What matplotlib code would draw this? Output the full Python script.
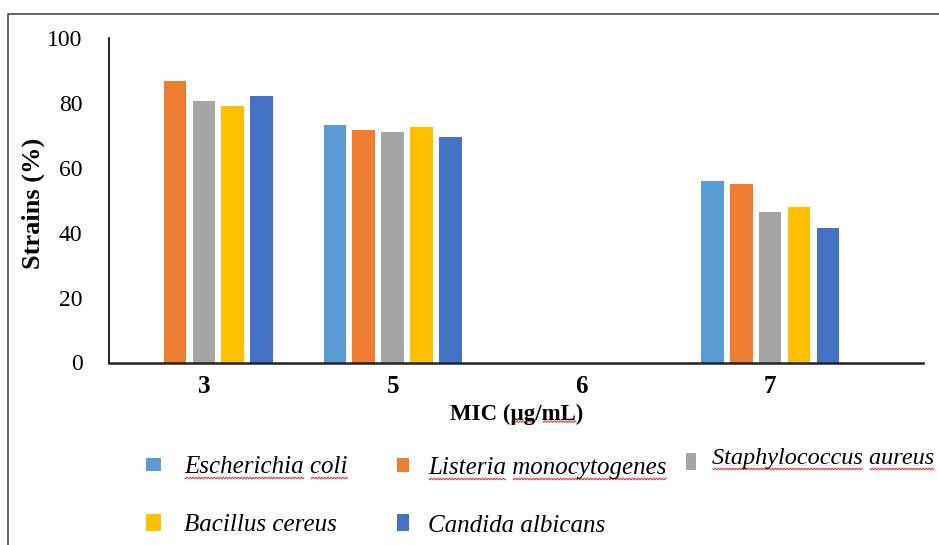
import matplotlib
matplotlib.use("Agg")
import matplotlib.pyplot as plt
from matplotlib.patches import Rectangle
from matplotlib.lines import Line2D
import numpy as np

# ---- data ----
categories = ["3", "5", "6", "7"]
series_names = ["Escherichia coli", "Listeria monocytogenes", "Staphylococcus aureus",
                "Bacillus cereus", "Candida albicans"]
ecoli = [0, 73.3, 0, 55.9]
listeria = [86.8, 71.8, 0, 55.1]
staph = [80.6, 71.0, 0, 46.4]
bacillus = [79.0, 72.6, 0, 47.9]
candida = [82.0, 69.5, 0, 41.6]
series_values = [ecoli, listeria, staph, bacillus, candida]
colors = ["#5B9BD5", "#ED7D31", "#A5A5A5", "#FFC000", "#4472C4"]
yticks = [0, 20, 40, 60, 80, 100]
spellmarked = [True, True, True, False, False]

W, H = 939, 545
plt.rcParams["font.family"] = ["Liberation Serif", "DejaVu Serif"]
fig = plt.figure(figsize=(W / 100, H / 100), dpi=100)

def fx(x):
    return x / W

def fy(y):
    return 1 - y / H

ax = fig.add_axes([fx(109), fy(362.5), fx(923) - fx(109), fy(38) - fy(362.5)])

x = np.arange(len(categories))
bw = 0.12
step = 0.153
for i, (vals, c) in enumerate(zip(series_values, colors)):
    ax.bar(x + (i - 2) * step, vals, width=bw, color=c, zorder=2)

ax.set_xlim(-0.503, 3.81)
ax.set_ylim(0, 100)
ax.set_yticks(yticks)
ax.set_yticklabels([str(v) for v in yticks], fontsize=17)
ax.set_xticks(x)
ax.set_xticklabels(categories, fontsize=18, fontweight="bold")
ax.tick_params(axis="y", length=0, pad=19)
ax.tick_params(axis="x", length=0, pad=9)
for s in ["top", "right"]:
    ax.spines[s].set_visible(False)
ax.spines["left"].set_linewidth(1.3)
ax.spines["bottom"].set_linewidth(1.8)
ax.spines["left"].set_color("#111111")
ax.spines["bottom"].set_color("#222222")

fig.text(fx(33), fy(203), "Strains (%)", rotation=90, fontsize=19, fontweight="bold",
         ha="center", va="center")
xlab = fig.text(fx(517), fy(414), "MIC (\u00b5g/mL)", fontsize=16.5, fontweight="bold",
                ha="center", va="center")

# outer frame
fig.add_artist(Line2D([fx(8), fx(8), fx(W + 5)], [fy(H + 5), fy(14), fy(14)],
                      transform=fig.transFigure, color="#555555", linewidth=1.3))

renderer = fig.canvas.get_renderer()

def squiggle(x0, x1, ybase):
    xs = np.arange(x0, x1, 0.5)
    ys = ybase + 0.9 * np.sin((xs - x0) / 3.0 * 2 * np.pi)
    fig.add_artist(Line2D(xs / W, 1 - ys / H, transform=fig.transFigure,
                          color="#E03C3C", linewidth=0.7))

def text_w(s, prop):
    if not s:
        return 0
    return renderer.get_text_width_height_descent(s, prop, ismath=False)[0]

def underline_ranges(txt, tx, ybase, ranges):
    s = txt.get_text()
    prop = txt.get_fontproperties()
    for a, b in ranges:
        squiggle(tx + text_w(s[:a], prop) + 1, tx + text_w(s[:b], prop), ybase)

def word_ranges(s):
    out, pos = [], 0
    for word in s.split(" "):
        start = s.index(word, pos)
        pos = start + len(word)
        out.append((start, pos))
    return out

# legend (manual, row-wise like the original)
legend_layout = [  # square x, y top, w, h, text x, baseline y, font size
    (146, 458, 15, 13, 184, 473, 18),
    (397, 458, 12, 14, 428, 474, 18),
    (686, 453, 10, 17, 712, 464, 17.5),
    (146, 514, 15, 17, 184, 531, 18),
    (397, 514, 12, 17, 428, 532, 18),
]
for name, c, mark, (sx, sy, sw, sh, tx, ty, fs) in zip(series_names, colors, spellmarked, legend_layout):
    fig.add_artist(Rectangle((fx(sx), fy(sy + sh)), sw / W, sh / H,
                             transform=fig.transFigure, facecolor=c, edgecolor="none"))
    t = fig.text(fx(tx), fy(ty), name, fontsize=fs, fontstyle="italic",
                 ha="left", va="baseline")
    if mark:
        underline_ranges(t, tx, ty + 5, word_ranges(name))

# squiggles under the unit in the x-axis title ("µg" and "mL")
fig.canvas.draw()
bb = xlab.get_window_extent(renderer)
s = xlab.get_text()
iu = s.index("\u00b5")
im = s.index("mL")
underline_ranges(xlab, bb.x0, H - bb.y0 - 3, [(iu, iu + 2), (im, im + 2)])

fig.savefig("out.png", dpi=100)
